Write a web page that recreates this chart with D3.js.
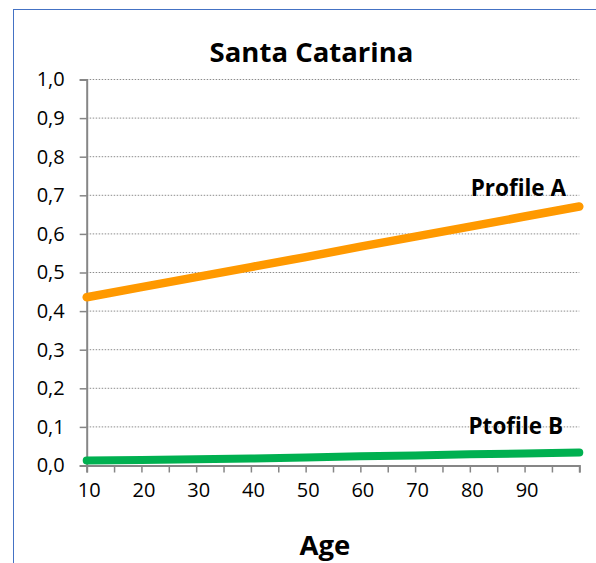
<!DOCTYPE html>
<html>
<head>
<meta charset="utf-8">
<script src="https://cdn.jsdelivr.net/npm/d3@7"></script>
<style>
  html, body { margin: 0; padding: 0; background: #fff; }
  svg { display: block; font-family: "Open Sans", Lato, sans-serif; }
</style>
</head>
<body>
<svg id="chart" width="596" height="563"></svg>
<script>
// Ages and the two profile curves
const ages = [10, 20, 30, 40, 50, 60, 70, 80, 90, 100];
const profileA = [0.436, 0.462, 0.488, 0.514, 0.540, 0.567, 0.593, 0.619, 0.645, 0.671];
const profileB = [0.013, 0.014, 0.016, 0.018, 0.021, 0.024, 0.026, 0.029, 0.031, 0.034];

const yTicks = [0, 0.1, 0.2, 0.3, 0.4, 0.5, 0.6, 0.7, 0.8, 0.9, 1.0];
const xTickMarks = [10, 15, 20, 25, 30, 35, 40, 45, 50, 55, 60, 65, 70, 75, 80, 85, 90, 95, 100];
const xTickLabels = [10, 20, 30, 40, 50, 60, 70, 80, 90];

const titleText = "Santa Catarina";
const xTitle = "Age";
const labelA = "Profile A";
const labelB = "Ptofile B";

const svg = d3.select("#chart");
const FONT = "'Open Sans', Lato, sans-serif";

// outer frame
svg.append("rect")
  .attr("x", 13.5).attr("y", 9.5)
  .attr("width", 700).attr("height", 700)
  .attr("fill", "none")
  .attr("stroke", "#4472C4")
  .attr("stroke-width", 1);

const x = d3.scaleLinear().domain([10, 100]).range([86.7, 579.3]);
const y = d3.scaleLinear().domain([0, 1]).range([465.5, 79.5]);

// dotted gridlines
svg.append("g")
  .selectAll("line")
  .data(yTicks.slice(1))
  .join("line")
  .attr("x1", x(10)).attr("x2", x(100))
  .attr("y1", d => y(d)).attr("y2", d => y(d))
  .attr("stroke", "#8c8c8c")
  .attr("stroke-width", 1)
  .attr("stroke-dasharray", "1.5,1.5");

const fmt = d => d3.format(".1f")(d).replace(".", ",");

// y axis
const yAxis = svg.append("g")
  .attr("transform", `translate(${x(10)},0)`)
  .call(d3.axisLeft(y).tickValues(yTicks).tickFormat(fmt).tickSize(7).tickPadding(14));
yAxis.select(".domain").attr("stroke", "#868686").attr("stroke-width", 2);
yAxis.selectAll(".tick line").attr("stroke", "#868686").attr("stroke-width", 1.5);
yAxis.selectAll(".tick text")
  .attr("fill", "#000")
  .attr("dx", "-1")
  .style("font-family", FONT)
  .style("font-size", "20px");

// x axis: tick marks every 5, labels every 10
const xAxis = svg.append("g")
  .attr("transform", `translate(0,${y(0)})`)
  .call(d3.axisBottom(x).tickValues(xTickMarks)
    .tickFormat(d => xTickLabels.includes(d) ? d : "")
    .tickSize(7).tickPadding(10));
xAxis.select(".domain").attr("stroke", "#868686").attr("stroke-width", 2);
xAxis.selectAll(".tick text")
  .attr("fill", "#000")
  .attr("dx", "2")
  .style("font-family", FONT)
  .style("font-size", "20px");
xAxis.selectAll(".tick line").attr("stroke", "#868686").attr("stroke-width", 1.5);

// series lines
const line = d3.line()
  .x((d, i) => x(ages[i]))
  .y(d => y(d));

svg.append("path")
  .datum(profileB)
  .attr("d", line)
  .attr("fill", "none")
  .attr("stroke", "#00B050")
  .attr("stroke-width", 8)
  .attr("stroke-linecap", "round");

svg.append("path")
  .datum(profileA)
  .attr("d", line)
  .attr("fill", "none")
  .attr("stroke", "#FF9900")
  .attr("stroke-width", 8.5)
  .attr("stroke-linecap", "round");

// series labels
svg.append("text")
  .attr("x", 566).attr("y", 195.5)
  .attr("text-anchor", "end")
  .attr("font-weight", "bold")
  .attr("font-size", 22.5)
  .text(labelA);

svg.append("text")
  .attr("x", 563).attr("y", 433.5)
  .attr("text-anchor", "end")
  .attr("font-weight", "bold")
  .attr("font-size", 22.5)
  .text(labelB);

// title
svg.append("text")
  .attr("x", 311.5).attr("y", 61.5)
  .attr("text-anchor", "middle")
  .attr("font-weight", "bold")
  .attr("font-size", 27.5)
  .text(titleText);

// x axis title
svg.append("text")
  .attr("x", 325).attr("y", 555)
  .attr("text-anchor", "middle")
  .attr("font-weight", "bold")
  .attr("font-size", 27.5)
  .text(xTitle);
</script>
</body>
</html>
